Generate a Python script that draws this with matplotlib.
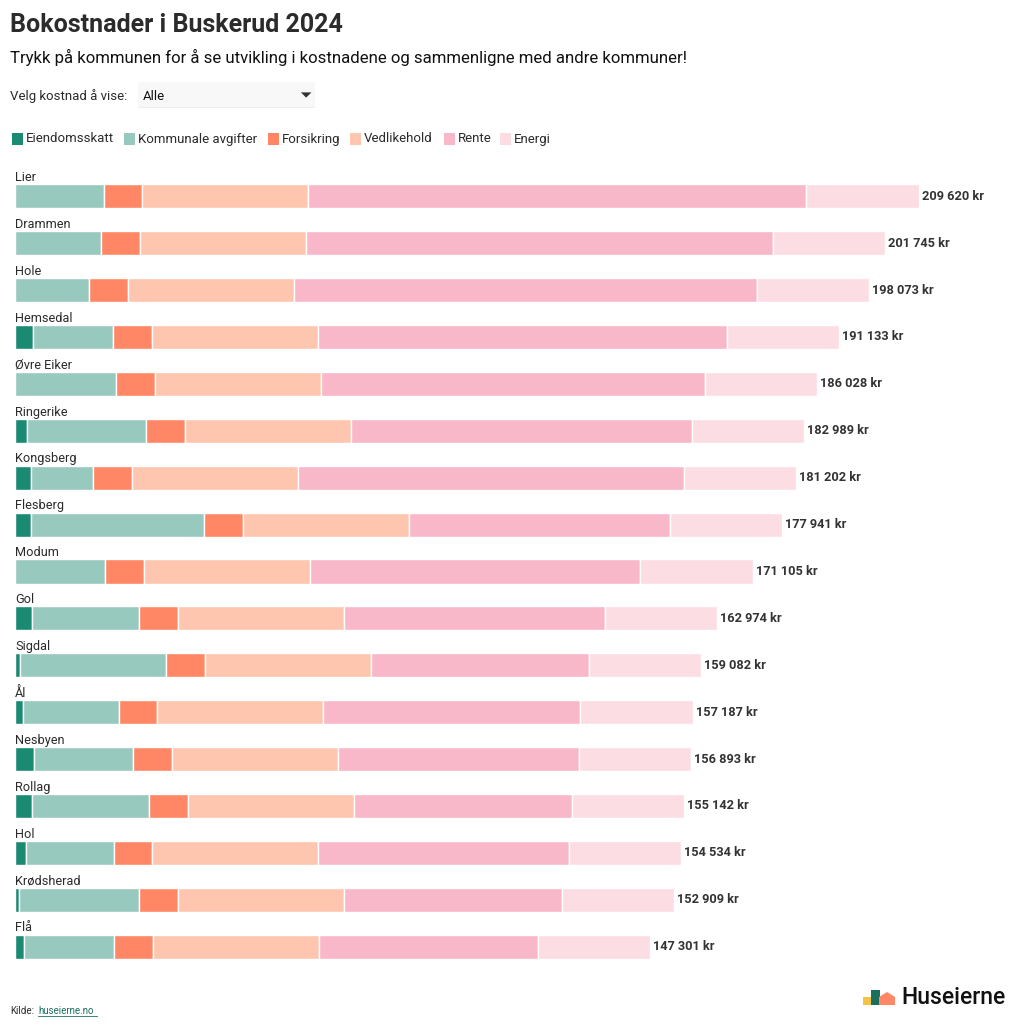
import matplotlib
matplotlib.use("Agg")
import matplotlib.pyplot as plt
import matplotlib.patches as patches
import numpy as np

W, H = 1020, 1029

# data (kr per year)
kommuner = ["Lier", "Drammen", "Hole", "Hemsedal", "Øvre Eiker", "Ringerike",
            "Kongsberg", "Flesberg", "Modum", "Gol", "Sigdal", "Ål", "Nesbyen",
            "Rollag", "Hol", "Krødsherad", "Flå"]
eiendomsskatt = [0, 0, 0, 4290, 0, 2670, 3740, 3600, 0, 4060, 1070, 1930,
                 4360, 3830, 2440, 930, 2200]
kommunale_avgifter = [20560, 19900, 17120, 18400, 23390, 27680, 14380, 40210,
                      20830, 24660, 33920, 22090, 23130, 27210, 20440, 27910, 20880]
forsikring = [9000] * 17
vedlikehold = [38500] * 17
rente = [115560, 108345, 107453, 94943, 89138, 79139, 89582, 60631, 76775,
         60754, 50592, 59667, 55903, 50602, 58154, 50569, 50721]
energi = [26000] * 17

serier = ["Eiendomsskatt", "Kommunale avgifter", "Forsikring", "Vedlikehold", "Rente", "Energi"]
farger = ["#1b8a72", "#97c9bf", "#ff8765", "#fec6ae", "#f8b8c9", "#fcdde4"]

FONT = "Roboto"
TXT = "#2b2b2b"

def fx(px):
    return px / W

def fy(py):
    return 1 - py / H

fig = plt.figure(figsize=(W / 100, H / 100), dpi=100)
fig.patch.set_facecolor("white")

# header
fig.text(fx(10), fy(25), "Bokostnader i Buskerud 2024", fontsize=18, fontweight="bold",
         family=FONT, color=TXT, va="center")
fig.text(fx(10), fy(57), "Trykk på kommunen for å se utvikling i kostnadene og sammenligne med andre kommuner!",
         fontsize=12.1, family=FONT, color="#111111", va="center")
fig.text(fx(10), fy(96), "Velg kostnad å vise:", fontsize=9.5, family=FONT, color=TXT, va="center")

# dropdown
dd = fig.add_axes([fx(138), fy(108), fx(315) - fx(138), (108 - 82) / H])
dd.set_xlim(0, 1)
dd.set_ylim(0, 1)
dd.axis("off")
dd.add_patch(patches.Rectangle((0, 0), 1, 1, facecolor="#f8f8f8", edgecolor="none"))
dd.plot([0, 1], [0.01, 0.01], color="#c8c8c8", lw=1)
dd.text(0.025, 0.45, "Alle", fontsize=9.5, family=FONT, color="#111111", va="center")
dd.add_patch(patches.Polygon([[0.92, 0.6], [0.98, 0.6], [0.95, 0.4]], closed=True,
                             facecolor="#333333", edgecolor="none"))

# legend
lx = [12, 124, 268, 350, 444, 500]
for i, (navn, c) in enumerate(zip(serier, farger)):
    fig.patches.append(patches.Rectangle((fx(lx[i]), fy(145)), 11 / W, 12 / H,
                                         transform=fig.transFigure, facecolor=c, edgecolor="none"))
    fig.text(fx(lx[i] + 14), fy(139), navn, fontsize=9.5, family=FONT, color=TXT, va="center")

# bars
scale = 232.0  # kr per pixel
top_px, bot_px = 160, 975
row0, pitch = 196.3, 46.9
ax = fig.add_axes([fx(15), fy(bot_px), 1 - fx(15), (bot_px - top_px) / H])
ax.set_xlim(0, (W - 15) * scale)
ax.set_ylim((bot_px - row0) / pitch, (top_px - row0) / pitch)
ax.axis("off")

y = np.arange(len(kommuner))
bh = 0.512
left = np.zeros(len(kommuner))
for vals, c in zip([eiendomsskatt, kommunale_avgifter, forsikring, vedlikehold, rente, energi], farger):
    v = np.array(vals, dtype=float)
    ax.barh(y, v, left=left, height=bh, color=c, edgecolor="white", linewidth=1.0)
    left += v

for i, navn in enumerate(kommuner):
    ax.text(0, i - bh / 2 - 0.005, navn, fontsize=9.2, family=FONT, color=TXT, va="bottom", ha="left")
    total = int(left[i])
    lab = f"{total:,} kr".replace(",", " ")
    ax.text(left[i] + 3 * scale, i, lab, fontsize=9.2, fontweight="bold", family=FONT,
            color="#333333", va="center", ha="left")

# footer
fig.text(fx(10), fy(1011), "Kilde:", fontsize=7, family=FONT, color=TXT, va="center")
fig.text(fx(38), fy(1011), "huseierne.no", fontsize=7, family=FONT, color="#1b6f5e", va="center")
fig.lines.append(plt.Line2D([fx(38), fx(97)], [fy(1016), fy(1016)], transform=fig.transFigure,
                            color="#1b6f5e", lw=0.6))

# logo
fig.patches.append(patches.Rectangle((fx(863), fy(1005)), 8 / W, 8 / H, transform=fig.transFigure,
                                     facecolor="#f5c242", edgecolor="none"))
fig.patches.append(patches.Rectangle((fx(871), fy(1005)), 9 / W, 15 / H, transform=fig.transFigure,
                                     facecolor="#1b6f5e", edgecolor="none"))
fig.patches.append(patches.Polygon([[fx(879), fy(1005)], [fx(879), fy(997)], [fx(887), fy(992)],
                                    [fx(895), fy(997)], [fx(895), fy(1005)]], closed=True,
                                   transform=fig.transFigure, facecolor="#ff8765", edgecolor="none"))
fig.text(fx(901), fy(998), "Huseierne", fontsize=16.5, fontweight="medium", family=FONT,
         color="#111111", va="center")

fig.savefig("out.png", dpi=100)
